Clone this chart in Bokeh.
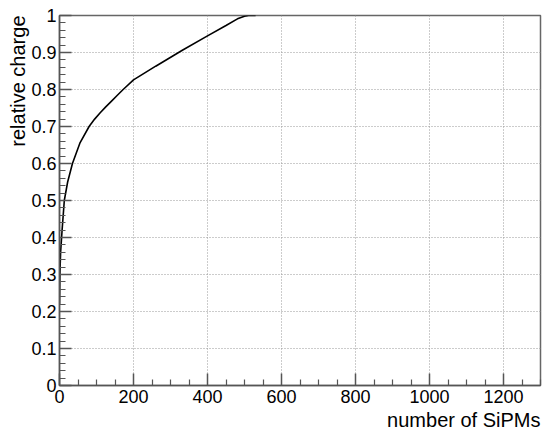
from bokeh.plotting import figure
from bokeh.models import Range1d, FixedTicker, Title
from bokeh.embed import file_html
from bokeh.resources import INLINE

# data
n_sipm = [0, 1, 3, 7, 13, 22, 35, 55, 80, 95, 110, 125, 140, 155, 172, 200, 260, 332, 400,
          450, 481, 500, 511, 530]
rel_charge = [0.22, 0.30, 0.36, 0.42, 0.50, 0.55, 0.60, 0.655, 0.70, 0.72, 0.737, 0.753, 0.768,
              0.783, 0.80, 0.826, 0.863, 0.906, 0.945, 0.973, 0.991, 0.998, 1.0, 1.0]

x_ticks = [0, 200, 400, 600, 800, 1000, 1200]
x_tick_labels = ["0", "200", "400", "600", "800", "1000", "1200"]
y_ticks = [0.0, 0.1, 0.2, 0.3, 0.4, 0.5, 0.6, 0.7, 0.8, 0.9, 1.0]
y_tick_labels = ["0", "0.1", "0.2", "0.3", "0.4", "0.5", "0.6", "0.7", "0.8", "0.9", "1"]
x_title = "number of SiPMs"
y_title = "relative charge"

FONT = "Liberation Sans"
W, H = 550, 438

p = figure(width=W, height=H, output_backend="svg", toolbar_location=None,
           x_range=Range1d(0, 1300), y_range=Range1d(0, 1),
           min_border_left=59, min_border_right=10, min_border_top=15, min_border_bottom=53)
p.background_fill_color = "white"
p.border_fill_color = "white"
p.outline_line_color = "#666666"
p.outline_line_width = 1.5

p.line(n_sipm, rel_charge, line_color="black", line_width=1.6)

x_minor = [v for v in range(0, 1301, 50) if v % 200 != 0]
y_minor = [round(i * 0.02, 2) for i in range(51) if i % 5 != 0]
p.xaxis.ticker = FixedTicker(ticks=x_ticks, minor_ticks=x_minor)
p.yaxis.ticker = FixedTicker(ticks=y_ticks, minor_ticks=y_minor)
p.xaxis.major_label_overrides = {t: l for t, l in zip(x_ticks, x_tick_labels)}
p.yaxis.major_label_overrides = {t: l for t, l in zip(y_ticks, y_tick_labels)}

for ax in (p.xaxis[0], p.yaxis[0]):
    ax.axis_line_color = "#555555"
    ax.axis_line_width = 1.5
    ax.major_tick_line_color = "#555555"
    ax.minor_tick_line_color = "#555555"
    ax.major_tick_line_width = 1.5
    ax.minor_tick_line_width = 1.2
    ax.major_tick_out = 0
    ax.minor_tick_out = 0
    ax.major_tick_in = 12
    ax.minor_tick_in = 6
    ax.major_label_text_font = FONT
    ax.major_label_text_font_size = "18px"
    ax.major_label_text_color = "black"
p.xaxis.major_label_standoff = 4
p.yaxis.major_label_standoff = 3

p.xgrid.grid_line_color = "#999999"
p.ygrid.grid_line_color = "#999999"
p.xgrid.grid_line_dash = "1 2"
p.ygrid.grid_line_dash = "1 2"
p.xgrid.grid_line_width = 1
p.ygrid.grid_line_width = 1

xt = Title(text=x_title, align="right", text_font=FONT, text_font_size="20px",
           text_font_style="normal", text_color="black", standoff=2, offset=0)
yt = Title(text=y_title, align="right", text_font=FONT, text_font_size="20px",
           text_font_style="normal", text_color="black", standoff=0, offset=0)
p.add_layout(xt, "below")
p.add_layout(yt, "left")

open("out.html", "w").write(file_html(p, INLINE))
